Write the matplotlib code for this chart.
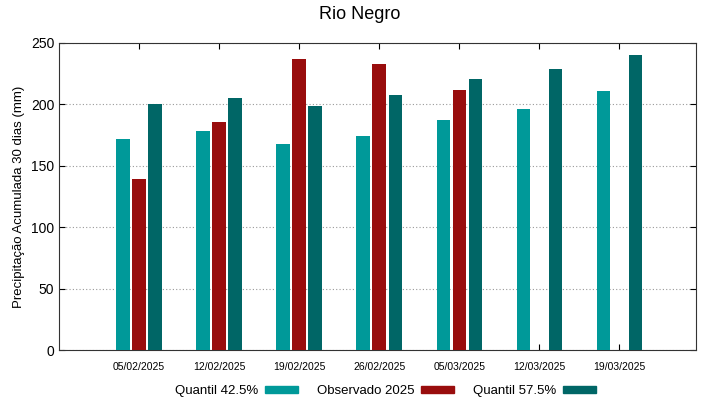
import matplotlib
matplotlib.use("Agg")
import matplotlib.pyplot as plt
import numpy as np
from matplotlib.patches import Patch

plt.rcParams["font.family"] = ["Liberation Sans", "DejaVu Sans"]

datas = ["05/02/2025", "12/02/2025", "19/02/2025", "26/02/2025",
         "05/03/2025", "12/03/2025", "19/03/2025"]
q425 = [172, 178, 168, 174, 187, 196, 211]
observado = [139, 186, 237, 233, 212, np.nan, np.nan]
q575 = [200, 205, 199, 208, 221, 229, 240]

c_q425 = "#009999"
c_obs = "#990d0d"
c_q575 = "#006666"

fig = plt.figure(figsize=(7.19, 3.99), dpi=100)
ax = fig.add_axes([59 / 719, 1 - 350 / 399, 637 / 719, 307 / 399])

x = np.arange(len(datas))
w = 0.165
off = 0.2
ax.bar(x - off, q425, width=w, color=c_q425, zorder=3)
ax.bar(x, observado, width=w, color=c_obs, zorder=3)
ax.bar(x + off, q575, width=w, color=c_q575, zorder=3)

ax.set_xlim(-1, 6.96)
ax.set_ylim(0, 250)
ax.set_xticks(x)
ax.set_xticklabels(datas, fontsize=7.5)
ax.set_yticks(range(0, 251, 50))
ax.tick_params(axis="y", labelsize=10, direction="in", right=True, length=4)
ax.tick_params(axis="x", direction="in", top=True, length=4, pad=9)
ax.grid(axis="y", linestyle=(0, (1, 2)), color="#999999", linewidth=0.8, zorder=0)
for s in ax.spines.values():
    s.set_color("#333333")

ax.set_ylabel("Precipitação Acumulada 30 dias (mm)", fontsize=9.5)
fig.suptitle("Rio Negro", fontsize=13, y=0.985)

handles = [Patch(color=c_q425), Patch(color=c_obs), Patch(color=c_q575)]
labels = ["Quantil 42.5%", "Observado 2025", "Quantil 57.5%"]
fig.legend(handles, labels, loc="lower center", bbox_to_anchor=(0.536, -0.025),
           ncol=3, frameon=False, markerfirst=False, fontsize=9.5,
           handlelength=2.5, handleheight=0.45, handletextpad=0.55,
           columnspacing=1.4)

fig.savefig("out.png", dpi=100)
